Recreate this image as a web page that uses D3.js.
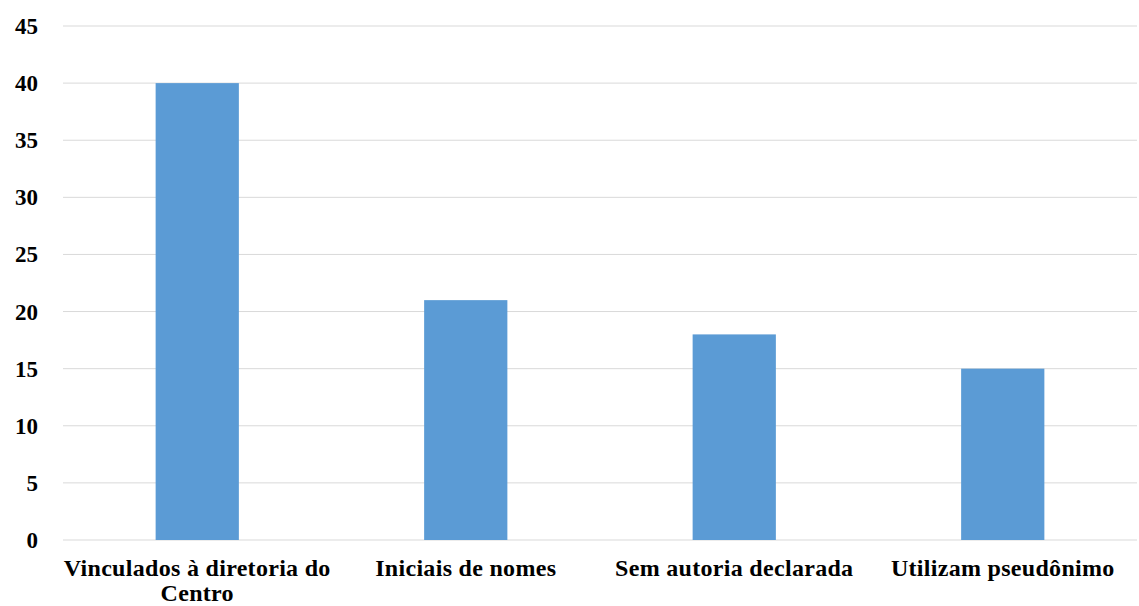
<!DOCTYPE html>
<html>
<head>
<meta charset="utf-8">
<script src="https://cdn.jsdelivr.net/npm/d3@7"></script>
<style>
  html, body { margin: 0; padding: 0; background: #fff; }
</style>
</head>
<body>
<svg id="chart" width="1139" height="606"></svg>
<script>
// dados do gráfico
const categories = [
    ["Vinculados à diretoria do", "Centro"],
    ["Iniciais de nomes"],
    ["Sem autoria declarada"],
    ["Utilizam pseudônimo"]
];
const values = [40, 21, 18, 15];
const yTicks = [0, 5, 10, 15, 20, 25, 30, 35, 40, 45];

const svg = d3.select("#chart");
const plotLeft = 63, plotRight = 1137, plotTop = 26, plotBottom = 540;
const fontFamily = "'Liberation Serif', 'DejaVu Serif', serif";

const x = d3.scaleBand()
    .domain(d3.range(categories.length))
    .range([plotLeft, plotRight])
    .paddingInner(0.69)
    .paddingOuter(0.345);

const y = d3.scaleLinear()
    .domain([0, 45])
    .range([plotBottom, plotTop]);

// linhas de grade
svg.append("g")
    .selectAll("line")
    .data(yTicks)
    .join("line")
    .attr("x1", plotLeft)
    .attr("x2", plotRight)
    .attr("y1", d => y(d))
    .attr("y2", d => y(d))
    .attr("stroke", "#d9d9d9")
    .attr("stroke-width", 1);

// rótulos do eixo y
svg.append("g")
    .selectAll("text")
    .data(yTicks)
    .join("text")
    .attr("x", 38)
    .attr("y", d => y(d))
    .attr("dy", "0.35em")
    .attr("text-anchor", "end")
    .style("font-family", fontFamily)
    .style("font-weight", "bold")
    .style("font-size", "23px")
    .text(d => d);

// barras
svg.append("g")
    .selectAll("rect")
    .data(values)
    .join("rect")
    .attr("x", (d, i) => x(i))
    .attr("width", x.bandwidth())
    .attr("y", d => y(d))
    .attr("height", d => y(0) - y(d))
    .attr("fill", "#5b9bd5");

// rótulos das categorias
const labels = svg.append("g")
    .selectAll("text")
    .data(categories)
    .join("text")
    .attr("x", (d, i) => x(i) + x.bandwidth() / 2)
    .attr("y", 576)
    .attr("text-anchor", "middle")
    .style("font-family", fontFamily)
    .style("font-weight", "bold")
    .style("font-size", "24px")
    .style("letter-spacing", "0.3px");

labels.selectAll("tspan")
    .data(d => d)
    .join("tspan")
    .attr("x", function () { return this.parentNode.getAttribute("x"); })
    .attr("dy", (d, i) => i === 0 ? 0 : 25)
    .text(d => d);
</script>
</body>
</html>
